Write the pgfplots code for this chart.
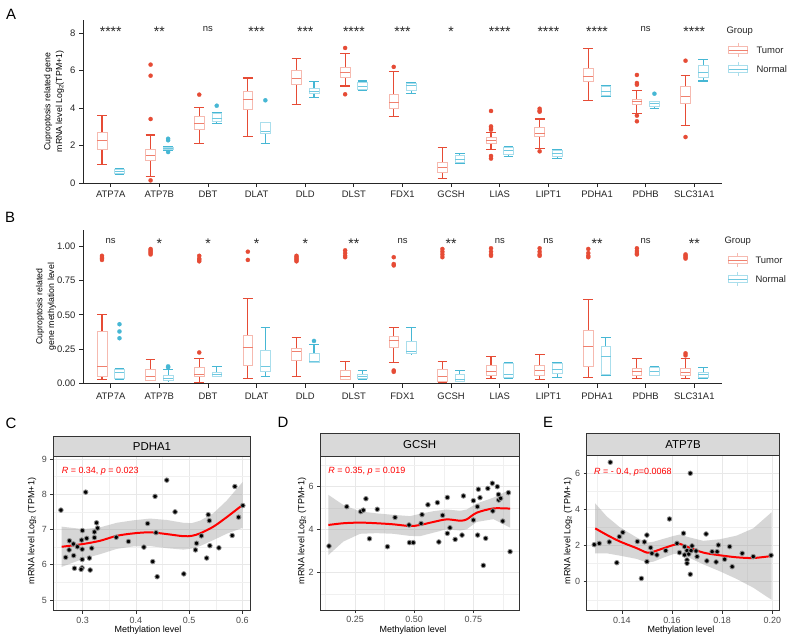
\documentclass[border=0pt]{standalone}
\usepackage{fontspec}
\setmainfont{Liberation Sans}
\usepackage{pgfplots}
\pgfplotsset{compat=1.18}
\usepgfplotslibrary{statistics}

\definecolor{tumdark}{RGB}{230,75,53}
\definecolor{tumlight}{RGB}{246,186,176}
\definecolor{tummed}{RGB}{240,128,110}
\definecolor{nordark}{RGB}{70,183,212}
\definecolor{norlight}{RGB}{170,222,236}
\definecolor{normed}{RGB}{110,200,224}

\pgfplotsset{
  tum/.style={draw=tumlight, line width=0.6pt, mark=*, mark size=2.1pt,
    mark options={draw=tumdark, fill=tumdark, line width=0.2pt, solid},
    boxplot/draw direction=y,
    boxplot/box extend=0.2, boxplot/whisker extend=0.2,
    boxplot/every whisker/.style={draw=tumdark, line width=1.1pt},
    boxplot/every median/.style={draw=tummed, line width=0.7pt}},
  nor/.style={draw=norlight, line width=0.6pt, mark=*, mark size=2.1pt,
    mark options={draw=nordark, fill=nordark, line width=0.2pt, solid},
    boxplot/draw direction=y,
    boxplot/box extend=0.2, boxplot/whisker extend=0.2,
    boxplot/every whisker/.style={draw=nordark, line width=1.1pt},
    boxplot/every median/.style={draw=normed, line width=0.7pt}},
  boxpanel/.style={scale only axis, width=639bp, xmin=0.43, xmax=13.57,
    axis lines=left, axis line style={-, line width=0.8pt, black!85},
    tick align=outside, major tick length=4bp, tick style={line width=0.8pt, black!85},
    xtick={1,...,13},
    xticklabels={ATP7A,ATP7B,DBT,DLAT,DLD,DLST,FDX1,GCSH,LIAS,LIPT1,PDHA1,PDHB,SLC31A1},
    tick label style={font=\fontsize{9.5}{11}\selectfont, text=black!85},
    clip=false},
  scatpanel/.style={scale only axis, axis line style={line width=0.6pt, black!80},
    tick pos=left, tick align=outside, major tick length=3bp, minor tick length=0pt,
    tick style={line width=0.6pt, black!80},
    grid=both, major grid style={line width=0.6pt, black!9},
    minor grid style={line width=0.3pt, black!6},
    tick label style={font=\fontsize{9}{10}\selectfont, text=black!70}},
  pts/.style={only marks, mark=*, mark size=2.3pt,
    mark options={fill=black, draw=black!45, line width=0.8pt}},
  band/.style={fill=black!40, fill opacity=0.4, draw=none}
}
\tikzset{sig/.style={font=\fontsize{9.5}{11}\selectfont, text=black!85},
  star/.style={font=\fontsize{14}{15}\selectfont, text=black!85, yshift=-3bp},
  lab/.style={font=\fontsize{9}{11}\selectfont, text=black},
  letter/.style={font=\fontsize{15}{18}\selectfont, text=black}}

% box without outliers: style, position, lower whisker, Q1, median, Q3, upper whisker
\newcommand{\bx}[7]{\addplot[#1, boxplot prepared={draw position=#2, lower whisker=#3,
  lower quartile=#4, median=#5, upper quartile=#6, upper whisker=#7}] coordinates {};}
% same with outliers as last argument
\newcommand{\bxo}[8]{\addplot[#1, boxplot prepared={draw position=#2, lower whisker=#3,
  lower quartile=#4, median=#5, upper quartile=#6, upper whisker=#7}]
  table[row sep=\\, y index=0] {v\\ #8};}

\begin{document}
\begin{tikzpicture}[x=1bp,y=1bp]
\path[use as bounding box, fill=white] (0,0) rectangle (790,-641);

% ---------------- A: mRNA ----------------
\begin{axis}[boxpanel, at={(83bp,-183bp)}, anchor=south west, height=163bp,
  ymin=0, ymax=8.69, ytick={0,2,4,6,8}, yticklabels={0,2,4,6,8}]
\bx{tum}{0.82}{1.00}{1.78}{2.26}{2.72}{3.61}
\bx{nor}{1.18}{0.44}{0.52}{0.62}{0.72}{0.76}
\bxo{tum}{1.82}{0.37}{1.19}{1.46}{1.78}{2.56}{6.31\\ 5.72\\ 3.41\\ 0.14\\}
\bxo{nor}{2.18}{1.74}{1.79}{1.87}{1.93}{1.97}{2.36\\ 2.28\\ 1.65\\}
\bxo{tum}{2.82}{2.12}{2.84}{3.20}{3.57}{4.02}{4.71\\}
\bxo{nor}{3.18}{3.15}{3.31}{3.47}{3.70}{3.73}{4.12\\}
\bx{tum}{3.82}{2.47}{3.91}{4.44}{4.87}{5.60}
\bxo{nor}{4.18}{2.12}{2.63}{2.76}{3.24}{3.24}{4.41\\}
\bx{tum}{4.82}{4.19}{5.24}{5.56}{6.03}{6.63}
\bx{nor}{5.18}{4.55}{4.76}{4.89}{5.07}{5.39}
\bxo{tum}{5.82}{5.17}{5.65}{5.92}{6.15}{6.92}{7.20\\ 4.73\\}
\bx{nor}{6.18}{4.91}{4.97}{5.17}{5.38}{5.44}
\bxo{tum}{6.82}{3.56}{3.96}{4.32}{4.75}{5.94}{6.19\\}
\bx{nor}{7.18}{4.78}{4.95}{5.19}{5.30}{5.35}
\bx{tum}{7.82}{0.23}{0.55}{0.84}{1.12}{1.87}
\bx{nor}{8.18}{1.03}{1.08}{1.27}{1.48}{1.55}
\bxo{tum}{8.82}{1.78}{2.13}{2.28}{2.42}{2.70}{3.84\\ 3.02\\ 2.93\\ 2.84\\ 1.44\\ 1.30\\}
\bx{nor}{9.18}{1.42}{1.55}{1.72}{1.90}{1.96}
\bxo{tum}{9.82}{1.83}{2.49}{2.63}{2.99}{3.41}{3.96\\ 3.85\\ 3.80\\ 1.69\\}
\bx{nor}{10.18}{1.33}{1.40}{1.56}{1.73}{1.78}
\bx{tum}{10.82}{4.41}{5.40}{5.67}{6.13}{7.16}
\bx{nor}{11.18}{4.59}{4.65}{4.89}{5.15}{5.21}
\bxo{tum}{11.82}{3.70}{4.18}{4.36}{4.46}{4.94}{5.76\\ 5.33\\ 5.24\\ 3.59\\ 3.29\\}
\bxo{nor}{12.18}{3.96}{4.10}{4.27}{4.33}{4.36}{4.76\\}
\bxo{tum}{12.82}{3.06}{4.25}{4.60}{5.14}{5.71}{6.52\\ 2.45\\}
\bx{nor}{13.18}{5.44}{5.65}{5.92}{6.26}{6.60}
\node[star] at (axis cs:1,8.21) {****};
\node[star] at (axis cs:2,8.21) {**};
\node[sig] at (axis cs:3,8.21) {ns};
\node[star] at (axis cs:4,8.21) {***};
\node[star] at (axis cs:5,8.21) {***};
\node[star] at (axis cs:6,8.21) {****};
\node[star] at (axis cs:7,8.21) {***};
\node[star] at (axis cs:8,8.21) {*};
\node[star] at (axis cs:9,8.21) {****};
\node[star] at (axis cs:10,8.21) {****};
\node[star] at (axis cs:11,8.21) {****};
\node[sig] at (axis cs:12,8.21) {ns};
\node[star] at (axis cs:13,8.21) {****};
\end{axis}

% ---------------- B: methylation ----------------
\begin{axis}[boxpanel, at={(83bp,-383.5bp)}, anchor=south west, height=153.5bp,
  xticklabel style={yshift=-2bp},
  ymin=0, ymax=1.118, ytick={0,0.25,0.5,0.75,1}, yticklabels={0.00,0.25,0.50,0.75,1.00}]
\bxo{tum}{0.82}{0.029}{0.053}{0.126}{0.381}{0.505}{0.93\\ 0.92\\ 0.91\\ 0.90\\}
\bxo{nor}{1.18}{0.029}{0.040}{0.080}{0.105}{0.107}{0.432\\ 0.379\\ 0.330\\}
\bxo{tum}{1.82}{0.022}{0.024}{0.053}{0.100}{0.175}{0.98\\ 0.97\\ 0.96\\ 0.95\\ 0.94\\}
\bxo{nor}{2.18}{0.020}{0.021}{0.039}{0.063}{0.102}{0.125\\ 0.118\\}
\bxo{tum}{2.82}{0.010}{0.053}{0.070}{0.119}{0.184}{0.226\\ 0.93\\ 0.91\\ 0.90\\ 0.89\\}
\bx{nor}{3.18}{0.050}{0.055}{0.070}{0.085}{0.121}
\bxo{tum}{3.82}{0.039}{0.131}{0.260}{0.350}{0.619}{0.96\\ 0.90\\}
\bx{nor}{4.18}{0.053}{0.087}{0.126}{0.243}{0.410}
\bxo{tum}{4.82}{0.053}{0.172}{0.233}{0.257}{0.335}{0.93\\ 0.92\\ 0.91\\ 0.90\\ 0.89\\}
\bxo{nor}{5.18}{0.153}{0.154}{0.165}{0.218}{0.282}{0.310\\}
\bxo{tum}{5.82}{0.027}{0.034}{0.053}{0.097}{0.158}{0.97\\ 0.95\\ 0.93\\ 0.92\\}
\bx{nor}{6.18}{0.032}{0.035}{0.053}{0.070}{0.092}
\bxo{tum}{6.82}{0.155}{0.262}{0.311}{0.345}{0.408}{0.92\\ 0.87\\ 0.86\\ 0.095\\ 0.085\\}
\bx{nor}{7.18}{0.216}{0.217}{0.235}{0.308}{0.410}
\bxo{tum}{7.82}{0.010}{0.019}{0.049}{0.102}{0.160}{0.98\\ 0.96\\ 0.94\\ 0.92\\}
\bx{nor}{8.18}{0.015}{0.016}{0.029}{0.066}{0.092}
\bxo{tum}{8.82}{0.034}{0.058}{0.087}{0.129}{0.197}{0.985\\ 0.96\\ 0.94\\ 0.93\\}
\bx{nor}{9.18}{0.034}{0.046}{0.070}{0.146}{0.150}
\bxo{tum}{9.82}{0.032}{0.063}{0.097}{0.129}{0.209}{0.985\\ 0.96\\ 0.94\\ 0.93\\}
\bx{nor}{10.18}{0.041}{0.075}{0.102}{0.146}{0.150}
\bxo{tum}{10.82}{0.046}{0.124}{0.267}{0.388}{0.612}{0.98\\ 0.95\\ 0.93\\ 0.92\\}
\bx{nor}{11.18}{0.056}{0.068}{0.199}{0.274}{0.333}
\bxo{tum}{11.82}{0.034}{0.058}{0.087}{0.112}{0.182}{0.985\\ 0.965\\ 0.95\\ 0.94\\}
\bx{nor}{12.18}{0.058}{0.060}{0.090}{0.120}{0.121}
\bxo{tum}{12.82}{0.039}{0.058}{0.080}{0.112}{0.180}{0.94\\ 0.93\\ 0.92\\ 0.91\\ 0.22\\ 0.205\\}
\bx{nor}{13.18}{0.034}{0.046}{0.066}{0.083}{0.117}
\node[sig] at (axis cs:1,1.04) {ns};
\node[star] at (axis cs:2,1.04) {*};
\node[star] at (axis cs:3,1.04) {*};
\node[star] at (axis cs:4,1.04) {*};
\node[star] at (axis cs:5,1.04) {*};
\node[star] at (axis cs:6,1.04) {**};
\node[sig] at (axis cs:7,1.04) {ns};
\node[star] at (axis cs:8,1.04) {**};
\node[sig] at (axis cs:9,1.04) {ns};
\node[sig] at (axis cs:10,1.04) {ns};
\node[star] at (axis cs:11,1.04) {**};
\node[sig] at (axis cs:12,1.04) {ns};
\node[star] at (axis cs:13,1.04) {**};
\end{axis}

% ---------------- C: PDHA1 ----------------
\begin{axis}[scatpanel, at={(53.3bp,-610.7bp)}, anchor=south west, width=197.4bp, height=154bp,
  xmin=0.2447, xmax=0.6158, ymin=4.696, ymax=9.065,
  xtick={0.3,0.4,0.5,0.6}, xticklabels={0.3,0.4,0.5,0.6}, minor xtick={0.25,0.35,0.45,0.55},
  ytick={5,6,7,8,9}, yticklabels={5,6,7,8,9}, minor ytick={5.5,6.5,7.5,8.5}]
\addplot[pts] coordinates {(0.259,7.55) (0.268,6.21) (0.2745,6.42) (0.275,6.68) (0.2825,6.59)
  (0.283,6.26) (0.2845,5.90) (0.290,6.51) (0.298,6.70) (0.2994,6.97) (0.299,6.44) (0.299,6.15)
  (0.2987,5.91) (0.297,5.87) (0.3056,8.06) (0.3075,6.75) (0.3125,6.19) (0.314,5.85) (0.317,6.47)
  (0.322,6.77) (0.322,6.93) (0.326,7.19) (0.328,7.04) (0.363,6.78) (0.386,6.66) (0.415,6.50)
  (0.422,7.17) (0.4316,6.09) (0.436,7.94) (0.4378,6.91) (0.440,5.66) (0.458,8.40) (0.4736,7.50)
  (0.490,5.74) (0.512,6.42) (0.514,6.61) (0.523,6.82) (0.533,6.19) (0.536,7.42) (0.538,7.25)
  (0.539,6.54) (0.556,6.48) (0.581,6.83) (0.586,8.22) (0.593,7.35) (0.601,7.68)};
% confidence band: upper edge left to right, then lower edge right to left
\addplot[band] coordinates {(0.2605,7.08) (0.3013,7.01) (0.3326,7.06)
  (0.3639,7.19) (0.3952,7.26) (0.4266,7.31) (0.4579,7.27) (0.4892,7.19) (0.5049,7.18)
  (0.5206,7.25) (0.5456,7.46) (0.5707,7.82) (0.6008,8.35)
  (0.6008,7.05) (0.5707,6.88) (0.5456,6.70) (0.5206,6.53) (0.5049,6.46) (0.4892,6.43)
  (0.4579,6.47) (0.4266,6.53) (0.3952,6.52) (0.3639,6.45) (0.3326,6.30) (0.3013,6.17)
  (0.2605,5.94)} -- cycle;
\addplot[red, line width=2pt, smooth] coordinates {(0.2605,6.51) (0.3013,6.59) (0.3326,6.68)
  (0.3639,6.82) (0.3952,6.89) (0.4266,6.92) (0.4579,6.87) (0.4892,6.81) (0.5049,6.82)
  (0.5206,6.89) (0.5456,7.08) (0.5707,7.35) (0.6008,7.70)};
\node[anchor=west, text=red, font=\fontsize{9}{10}\selectfont] at (axis cs:0.2541,8.66)
  {\textit{R} = 0.34, \textit{p} = 0.023};
\end{axis}

% ---------------- D: GCSH ----------------
\begin{axis}[scatpanel, at={(320bp,-610bp)}, anchor=south west, width=199.3bp, height=153.3bp,
  xmin=0.102, xmax=0.944, ymin=0.265, ymax=7.395,
  xtick={0.25,0.5,0.75}, xticklabels={0.25,0.50,0.75}, minor xtick={0.125,0.375,0.625,0.875},
  ytick={2,4,6}, yticklabels={2,4,6}, minor ytick={1,3,5,7}]
\addplot[pts] coordinates {(0.140,3.24) (0.215,5.07) (0.274,4.84) (0.285,4.91) (0.296,5.44)
  (0.311,3.58) (0.344,4.95) (0.387,3.21) (0.419,4.57) (0.480,3.40) (0.496,3.40) (0.478,4.22)
  (0.529,4.29) (0.533,4.70) (0.558,5.16) (0.598,5.26) (0.604,3.43) (0.620,4.67) (0.640,5.50)
  (0.640,3.83) (0.651,4.09) (0.673,3.55) (0.708,5.57) (0.702,3.75) (0.750,5.35) (0.750,4.45)
  (0.767,5.07) (0.771,5.88) (0.768,3.75) (0.778,5.49) (0.792,2.34) (0.802,3.60) (0.811,5.92)
  (0.830,6.16) (0.851,6.00) (0.856,5.64) (0.857,5.38) (0.865,5.46) (0.874,4.40) (0.832,4.87)
  (0.898,5.72) (0.905,2.98)};
\addplot[band] coordinates {(0.1373,5.62) (0.2007,5.15) (0.2711,4.85)
  (0.3415,4.76) (0.4120,4.69) (0.4824,4.63) (0.5246,4.74) (0.5810,4.86) (0.6373,4.94)
  (0.6937,4.88) (0.7218,4.94) (0.7641,5.22) (0.8345,5.49) (0.9049,5.86)
  (0.9049,4.10) (0.8345,4.49) (0.7641,4.36) (0.7218,4.02) (0.6937,3.96) (0.6373,4.02)
  (0.5810,3.86) (0.5246,3.70) (0.4824,3.71) (0.4120,3.81) (0.3415,3.84) (0.2711,3.81)
  (0.2007,3.45) (0.1373,2.82)} -- cycle;
\addplot[red, line width=2pt, smooth] coordinates {(0.1373,4.22) (0.2007,4.30) (0.2711,4.33)
  (0.3415,4.30) (0.4120,4.25) (0.4824,4.17) (0.5246,4.22) (0.5810,4.36) (0.6373,4.48)
  (0.6937,4.42) (0.7218,4.48) (0.7641,4.79) (0.8345,4.99) (0.9049,4.98)};
\node[anchor=west, text=red, font=\fontsize{9}{10}\selectfont] at (axis cs:0.123,6.73)
  {\textit{R} = 0.35, \textit{p} = 0.019};
\end{axis}

% ---------------- E: ATP7B ----------------
\begin{axis}[scatpanel, at={(586.7bp,-610.7bp)}, anchor=south west, width=192.6bp, height=155.7bp,
  xmin=0.126, xmax=0.2028, ymin=-1.606, ymax=7.01,
  xtick={0.14,0.16,0.18,0.2}, xticklabels={0.14,0.16,0.18,0.20}, minor xtick={0.13,0.15,0.17,0.19},
  ytick={0,2,4,6}, yticklabels={0,2,4,6}, minor ytick={-1,1,3,5}]
\addplot[pts] coordinates {(0.129,2.05) (0.131,2.12) (0.1354,6.61) (0.135,2.20) (0.138,1.05)
  (0.139,2.49) (0.1404,2.73) (0.1462,2.22) (0.1478,0.18) (0.149,2.20) (0.150,2.58) (0.150,1.11)
  (0.1515,1.88) (0.152,1.57) (0.154,1.48) (0.1575,1.72) (0.159,3.47) (0.162,2.12) (0.163,1.61)
  (0.1646,2.68) (0.165,1.94) (0.165,1.48) (0.166,1.72) (0.166,1.20) (0.166,1.02) (0.1667,1.53)
  (0.1673,6.00) (0.1673,0.41) (0.1676,1.72) (0.168,1.98) (0.1696,1.70) (0.170,1.39) (0.1736,2.64)
  (0.1739,1.15) (0.176,1.66) (0.1776,1.09) (0.178,1.66) (0.1785,2.03) (0.181,1.24) (0.183,1.94)
  (0.184,0.83) (0.188,1.57) (0.1924,1.39) (0.1995,1.46)};
\addplot[band] coordinates {(0.1294,4.33) (0.1340,3.61) (0.1393,3.00)
  (0.1460,2.44) (0.1500,2.16) (0.1526,2.21) (0.1566,2.37) (0.1606,2.53) (0.1632,2.61)
  (0.1659,2.49) (0.1725,2.26) (0.1792,2.35) (0.1858,2.55) (0.1924,2.95) (0.1997,3.84)
  (0.1997,-1.00) (0.1924,-0.33) (0.1858,0.15) (0.1792,0.57) (0.1725,0.96) (0.1659,1.39)
  (0.1632,1.57) (0.1606,1.53) (0.1566,1.33) (0.1526,1.11) (0.1500,1.06) (0.1460,1.26)
  (0.1393,1.44) (0.1340,1.57) (0.1294,1.57)} -- cycle;
\addplot[red, line width=2pt, smooth] coordinates {(0.1294,2.95) (0.1340,2.59) (0.1393,2.22)
  (0.1460,1.85) (0.1500,1.61) (0.1526,1.66) (0.1566,1.85) (0.1606,2.03) (0.1632,2.09)
  (0.1659,1.94) (0.1725,1.61) (0.1792,1.46) (0.1858,1.35) (0.1924,1.31) (0.1997,1.42)};
\node[anchor=west, text=red, font=\fontsize{9}{10}\selectfont] at (axis cs:0.1276,6.07)
  {\textit{R} = - 0.4, \textit{p}=0.0068};
\end{axis}

% strips
\draw[fill=black!15, draw=black!80, line width=0.6pt] (53.3,-436.7) rectangle (250.7,-456.7);
\node[font=\fontsize{11.5}{13}\selectfont] at (152,-446.7) {PDHA1};
\draw[fill=black!15, draw=black!80, line width=0.6pt] (320,-433.3) rectangle (519.3,-456.7);
\node[font=\fontsize{11.5}{13}\selectfont] at (419.7,-445) {GCSH};
\draw[fill=black!15, draw=black!80, line width=0.6pt] (586.7,-433.3) rectangle (779.3,-455);
\node[font=\fontsize{11.5}{13}\selectfont] at (683,-444.2) {ATP7B};

% axis titles
\node[rotate=90, align=center, font=\fontsize{8.8}{12}\selectfont] at (54,-101.5)
  {Cuproptosis related gene\\mRNA level Log\textsubscript{2}(TPM+1)};
\node[rotate=90, align=center, font=\fontsize{8.8}{12}\selectfont] at (46,-306.5)
  {Cuproptosis related\\gene methylation level};
\node[rotate=90, lab] at (32,-531) {mRNA level Log\textsubscript{2} (TPM+1)};
\node[rotate=90, lab] at (302,-531) {mRNA level Log\textsubscript{2} (TPM+1)};
\node[rotate=90, lab] at (568,-531) {mRNA level Log\textsubscript{2} (TPM+1)};
\node[lab] at (148,-630) {Methylation level};
\node[lab] at (413,-630) {Methylation level};
\node[lab] at (681,-630) {Methylation level};

% legends
\node[sig, anchor=west] at (723,-31) {Group};
\draw[tumlight, line width=0.6pt] (728.5,-46.5) rectangle (747.5,-53.5) (738,-43) -- (738,-46.5) (738,-53.5) -- (738,-57);
\draw[tummed, line width=0.6pt] (728.5,-50) -- (747.5,-50);
\node[sig, anchor=west] at (753,-50) {Tumor};
\draw[norlight, line width=0.6pt] (728.5,-65.5) rectangle (747.5,-72.5) (738,-62) -- (738,-65.5) (738,-72.5) -- (738,-76);
\draw[normed, line width=0.6pt] (728.5,-69) -- (747.5,-69);
\node[sig, anchor=west] at (753,-69) {Normal};

\node[sig, anchor=west] at (721,-241) {Group};
\draw[tumlight, line width=0.6pt] (728,-256.5) rectangle (747,-263.5) (737.5,-253) -- (737.5,-256.5) (737.5,-263.5) -- (737.5,-267);
\draw[tummed, line width=0.6pt] (728,-260) -- (747,-260);
\node[sig, anchor=west] at (752,-260) {Tumor};
\draw[norlight, line width=0.6pt] (728,-275.5) rectangle (747,-282.5) (737.5,-272) -- (737.5,-275.5) (737.5,-282.5) -- (737.5,-286);
\draw[normed, line width=0.6pt] (728,-279) -- (747,-279);
\node[sig, anchor=west] at (752,-279) {Normal};

% panel letters
\node[letter] at (11,-14) {A};
\node[letter] at (10,-217) {B};
\node[letter] at (11,-423) {C};
\node[letter] at (283,-422) {D};
\node[letter] at (548,-422) {E};
\end{tikzpicture}
\end{document}
